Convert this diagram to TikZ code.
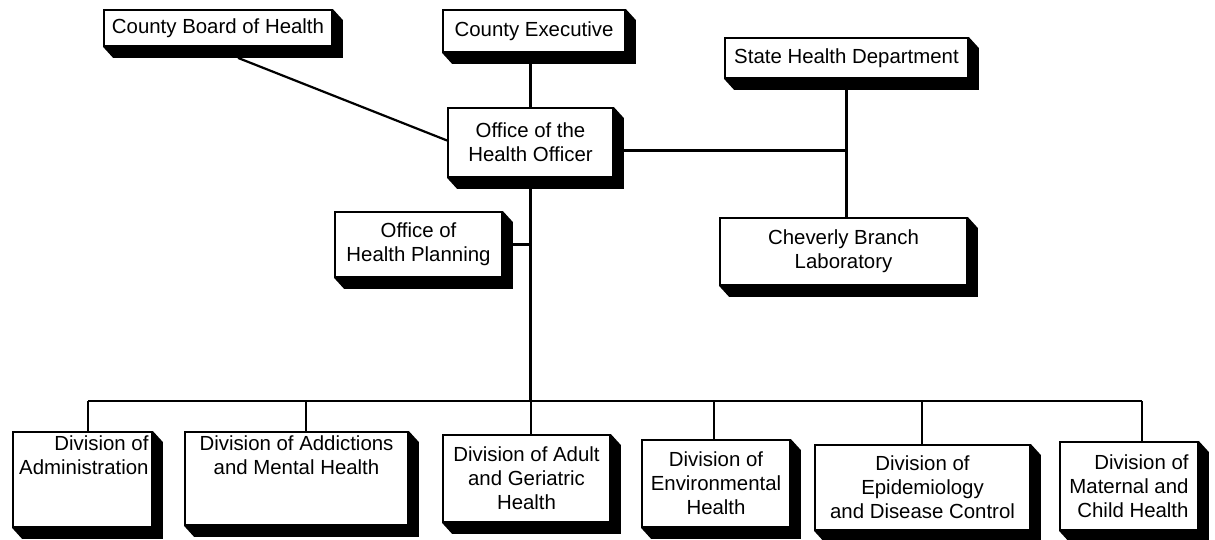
\documentclass[tikz,border=0pt]{standalone}
\usepackage{fontspec}
\setmainfont{Liberation Sans}
\usepackage{tikz}
\usetikzlibrary{calc}
\newcommand{\orgfont}{\fontsize{10.2}{12}\selectfont}
% block shadow down and to the right of a box
\newcommand{\boxshade}[1]{%
  \fill (#1.south west) -- ++(10,11) -- ($(#1.south east)+(10,11)$)
    -- ($(#1.north east)+(10,11)$) -- (#1.north east) -- (#1.south east) -- cycle;}
\tikzset{orgbox/.style={draw, line width=0.9pt, fill=white, font=\orgfont, align=center, inner sep=1pt}}

\begin{document}
\begin{tikzpicture}[x=0.5pt, y=-0.5pt, line width=1.1pt]
    \useasboundingbox[fill=white] (0,0) rectangle (1215,540);

    % Offices
    \node[orgbox, minimum width=114pt, minimum height=18pt] (cbh) at (218,28) {County Board of Health};
    \node[orgbox, minimum width=91pt, minimum height=21pt] (cex) at (534,31) {County Executive};
    \node[orgbox, minimum width=121.5pt, minimum height=20pt] (shd) at (846.5,58) {State Health Department};
    \node[orgbox, minimum width=82.5pt, minimum height=34.5pt] (oho) at (530.5,142.5) {Office of the\\Health Officer};
    \node[orgbox, minimum width=83.5pt, minimum height=32.5pt] (ohp) at (418.5,244.5) {Office of\\Health Planning};
    \node[orgbox, minimum width=123.5pt, minimum height=33.5pt] (chv) at (843.5,251.5) {Cheverly Branch\\Laboratory};

    % Divisions
    \node[orgbox, minimum width=69.5pt, minimum height=47.5pt] (adm) at (82.5,479.5)
        {\parbox[c][44pt][t]{66pt}{\raggedleft Division of\\Administration}};
    \node[orgbox, minimum width=111.5pt, minimum height=46.5pt] (add) at (296.5,478.5)
        {\parbox[c][43pt][t]{108pt}{\centering Division of Addictions\\and Mental Health}};
    \node[orgbox, minimum width=83.5pt, minimum height=43.5pt] (adu) at (526.5,478.5) {Division of Adult\\and Geriatric\\Health};
    \node[orgbox, minimum width=74pt, minimum height=43.5pt] (env) at (716,483.5) {Division of\\Environmental\\Health};
    \node[orgbox, minimum width=107.5pt, minimum height=42.5pt] (epi) at (922.5,487.5) {Division of\\Epidemiology\\and Disease Control};
    \node[orgbox, minimum width=69pt, minimum height=44pt, align=right] (mat) at (1129,486) {Division of\\Maternal and\\Child Health};

    \foreach \n in {cbh,cex,shd,oho,ohp,chv,adm,add,adu,env,epi,mat}
        \boxshade{\n};

    % Lines
    \draw ($(cbh.south)+(20,11)$) -- ($(oho.west)+(0,-2)$);
    \draw (cex.south -| oho.north) -- (oho.north);
    \coordinate (oho-r) at ($(oho.east)+(0,8)$);
    \draw (oho-r) -- (oho-r -| shd.south);
    \draw (shd.south) -- (shd.south |- chv.north);
    \draw (ohp.east) -- (ohp.east -| oho.south);

    \coordinate (b-adm) at (88,401);
    \coordinate (b-add) at (306,401);
    \coordinate (b-adu) at (531,401);
    \coordinate (b-env) at (714,401);
    \coordinate (b-epi) at (922,401);
    \coordinate (b-mat) at (1142,401);
    \draw (oho.south) -- (oho.south |- b-adu);
    \draw (b-adm) -- (b-mat);
    \foreach \n in {adm,add,adu,env,epi,mat}
        \draw (b-\n) -- (b-\n |- \n.north);
\end{tikzpicture}
\end{document}
